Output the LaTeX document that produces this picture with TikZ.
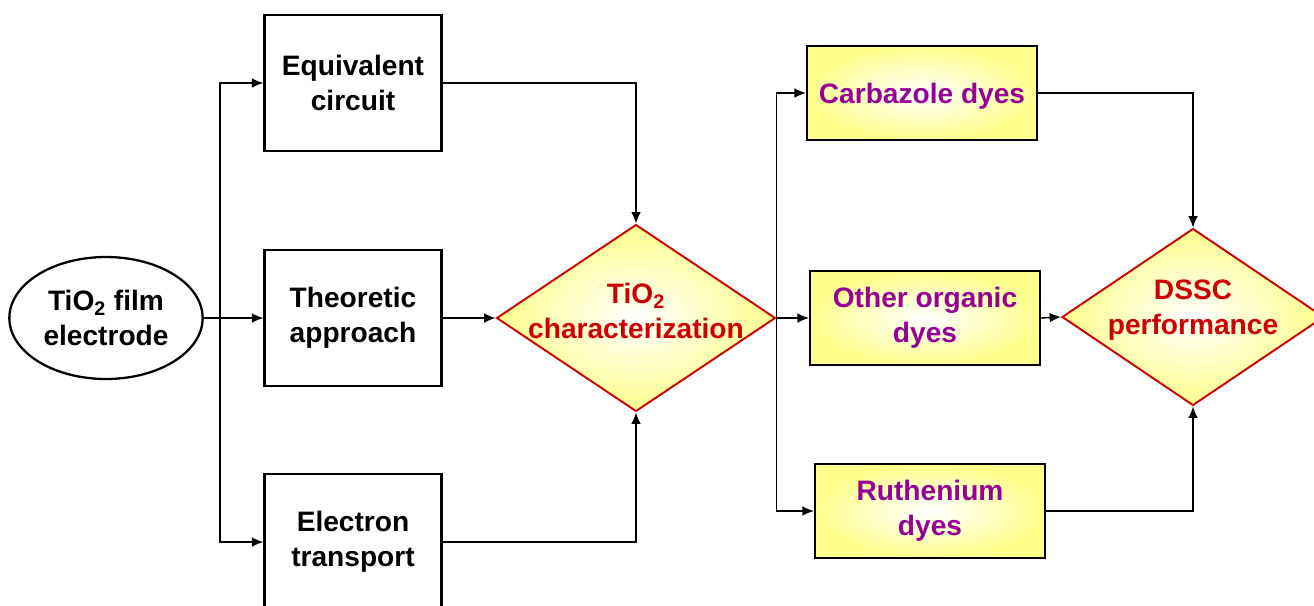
\documentclass[tikz,border=0pt]{standalone}
\usepackage{fontspec}
\setmainfont{Liberation Sans}
\usetikzlibrary{shapes.geometric,arrows.meta}

\definecolor{dyepurple}{RGB}{150,0,150}
\definecolor{darkred}{RGB}{204,0,0}
\definecolor{paleyellow}{RGB}{255,255,140}

\begin{document}
\begin{tikzpicture}[x=0.02cm,y=-0.02cm,
    font=\bfseries\fontsize{16}{20}\selectfont,
    >={Latex[length=6.5pt,width=5.5pt]},
    topic/.style={draw,line width=1.3pt,align=center,minimum width=3.54cm,minimum height=2.72cm},
    dye/.style={draw,line width=1.3pt,align=center,text=dyepurple,minimum width=4.6cm,minimum height=1.88cm,
      shading=radial,inner color=white,outer color=paleyellow},
    decision/.style={diamond,draw=darkred,line width=1.1pt,inner sep=0pt,
      shading=radial,inner color=white,outer color=paleyellow},
    verdict/.style={text=darkred,align=center,yshift=4pt},
    flow/.style={->,line width=0.8pt}]
    \useasboundingbox (0,0) rectangle (1314,605);

    \node[ellipse,draw,line width=1.3pt,align=center,minimum width=3.8cm,minimum height=2.44cm] (film) at (106,318) {TiO\textsubscript{2} film\\electrode};
    \node[topic] (equiv) at (353,83) {Equivalent\\circuit};
    \node[topic] (theory) at (353,318) {Theoretic\\approach};
    \node[topic] (transport) at (353,542) {Electron\\transport};

    \node[decision,minimum width=5.58cm,minimum height=3.74cm,
      label={[verdict]center:TiO\textsubscript{2}\\characterization}] (charac) at (636,318) {};

    \node[dye,text depth=-2pt] (carbazole) at (922,93) {Carbazole dyes};
    \node[dye] (organic) at (925,318) {Other organic\\dyes};
    \node[dye] (ruthenium) at (930,511) {Ruthenium\\dyes};

    \node[decision,minimum width=5.24cm,minimum height=3.54cm,
      label={[verdict]center:DSSC\\performance}] (dssc) at (1193,317) {};

    \coordinate (split) at (220,318);
    \draw[flow] (film.east) -- (theory.west);
    \draw[flow] (split) |- (equiv.west);
    \draw[flow] (split) |- (transport.west);

    \draw[flow] (equiv.east) -| (charac.north);
    \draw[flow] (theory.east) -- (charac.west);
    \draw[flow] (transport.east) -| (charac.south);

    \draw[flow] (charac.east) |- (carbazole.west);
    \draw[flow] (charac.east) -- (organic.west);
    \draw[flow] (charac.east) |- (ruthenium.west);

    \draw[flow] (carbazole.east) -| (dssc.north);
    \draw[flow] (organic.east) -- (dssc.west);
    \draw[flow] (ruthenium.east) -| (dssc.south);
\end{tikzpicture}
\end{document}
